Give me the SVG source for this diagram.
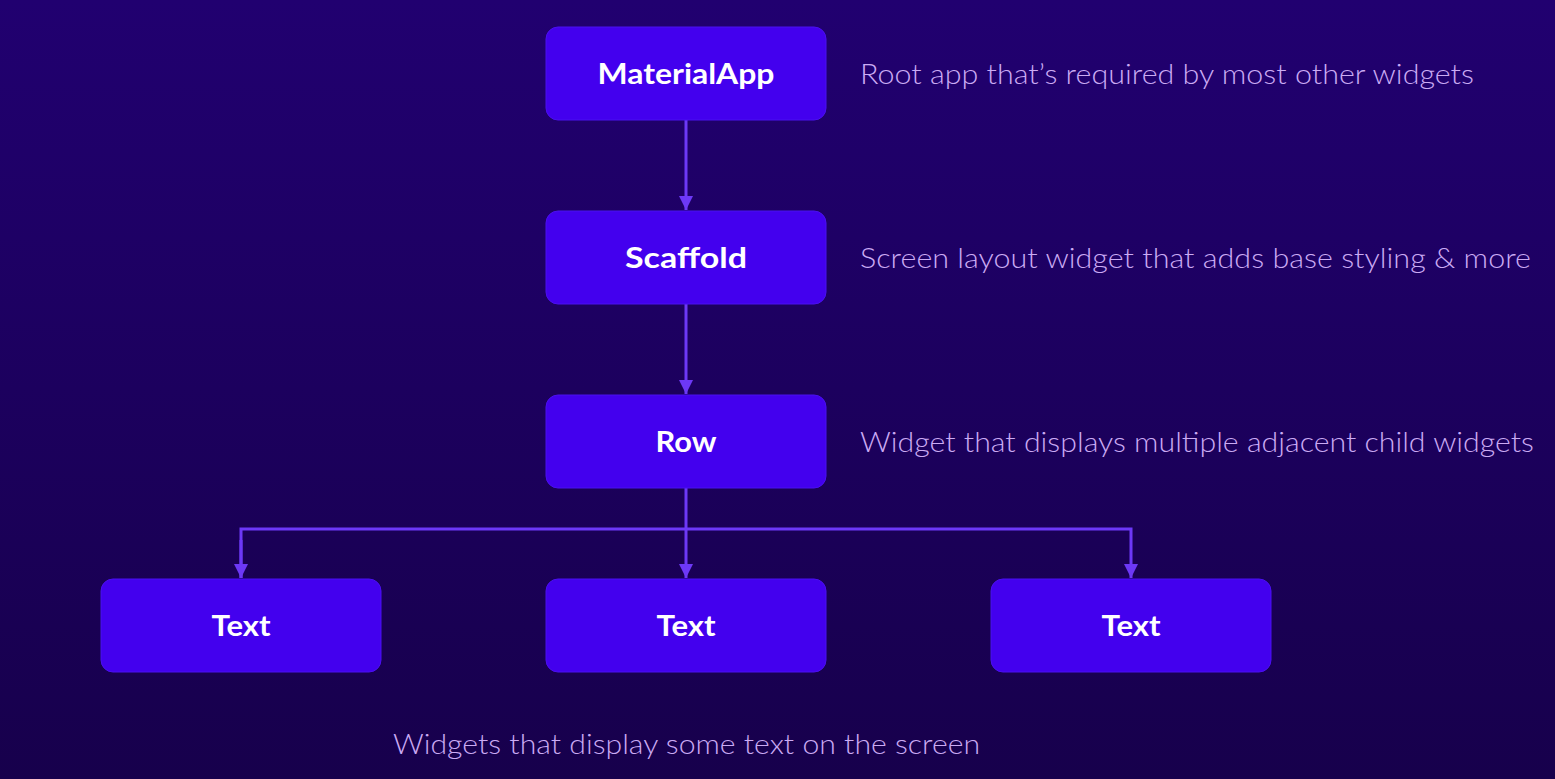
<svg xmlns="http://www.w3.org/2000/svg" width="1555" height="779" viewBox="0 0 1555 779">
  <defs>
    <linearGradient id="bg" x1="0" y1="0" x2="0" y2="1">
      <stop offset="0" stop-color="#210070"/>
      <stop offset="1" stop-color="#17004c"/>
    </linearGradient>
    <marker id="arrow" viewBox="0 0 10 10" refX="10" refY="5" markerWidth="14" markerHeight="14" markerUnits="userSpaceOnUse" orient="auto">
      <path d="M0,0 L10,5 L0,10 Z" fill="#6d38f7"/>
    </marker>
    <style>
      .box { fill: #4300ee; stroke: #4b10f0; stroke-width: 1; }
      .label { font-family: "Lato", "Noto Sans", sans-serif; font-weight: 700; font-size: 28px; fill: #ffffff; text-anchor: middle; }
      .desc { font-family: "Lato", "Noto Sans", sans-serif; font-weight: 300; font-size: 28px; fill: #cbabf4; }
      .link { fill: none; stroke: #6d38f7; stroke-width: 3; }
    </style>
  </defs>

  <rect width="1555" height="779" fill="url(#bg)"/>

  <!-- connectors -->
  <g id="connectors">
    <path class="link" d="M686,120 V210" marker-end="url(#arrow)"/>
    <path class="link" d="M686,304 V394" marker-end="url(#arrow)"/>
    <path class="link" d="M686,488 V578" marker-end="url(#arrow)"/>
    <path class="link" d="M241,578 V529 H1131 V578" marker-end="url(#arrow)"/>
    <path class="link" d="M241,540 V578" marker-end="url(#arrow)"/>
  </g>

  <g id="material-app">
    <rect class="box" x="546" y="27" width="280" height="93" rx="12"/>
    <text class="label" x="686" y="84" textLength="177" lengthAdjust="spacingAndGlyphs">MaterialApp</text>
  </g>
  <g id="scaffold">
    <rect class="box" x="546" y="211" width="280" height="93" rx="12"/>
    <text class="label" x="686" y="268" textLength="122" lengthAdjust="spacingAndGlyphs">Scaffold</text>
  </g>
  <g id="row">
    <rect class="box" x="546" y="395" width="280" height="93" rx="12"/>
    <text class="label" x="686" y="452" textLength="61" lengthAdjust="spacingAndGlyphs">Row</text>
  </g>
  <g id="text-1">
    <rect class="box" x="101" y="579" width="280" height="93" rx="12"/>
    <text class="label" x="241" y="636" textLength="59" lengthAdjust="spacingAndGlyphs">Text</text>
  </g>
  <g id="text-2">
    <rect class="box" x="546" y="579" width="280" height="93" rx="12"/>
    <text class="label" x="686" y="636" textLength="59" lengthAdjust="spacingAndGlyphs">Text</text>
  </g>
  <g id="text-3">
    <rect class="box" x="991" y="579" width="280" height="93" rx="12"/>
    <text class="label" x="1131" y="636" textLength="59" lengthAdjust="spacingAndGlyphs">Text</text>
  </g>

  <g id="descriptions">
    <text class="desc" x="860" y="84" textLength="614" lengthAdjust="spacingAndGlyphs">Root app that’s required by most other widgets</text>
    <text class="desc" x="860" y="268" textLength="671" lengthAdjust="spacingAndGlyphs">Screen layout widget that adds base styling &amp; more</text>
    <text class="desc" x="860" y="452" textLength="674" lengthAdjust="spacingAndGlyphs">Widget that displays multiple adjacent child widgets</text>
    <text class="desc" x="393" y="754" textLength="587" lengthAdjust="spacingAndGlyphs">Widgets that display some text on the screen</text>
  </g>
</svg>
